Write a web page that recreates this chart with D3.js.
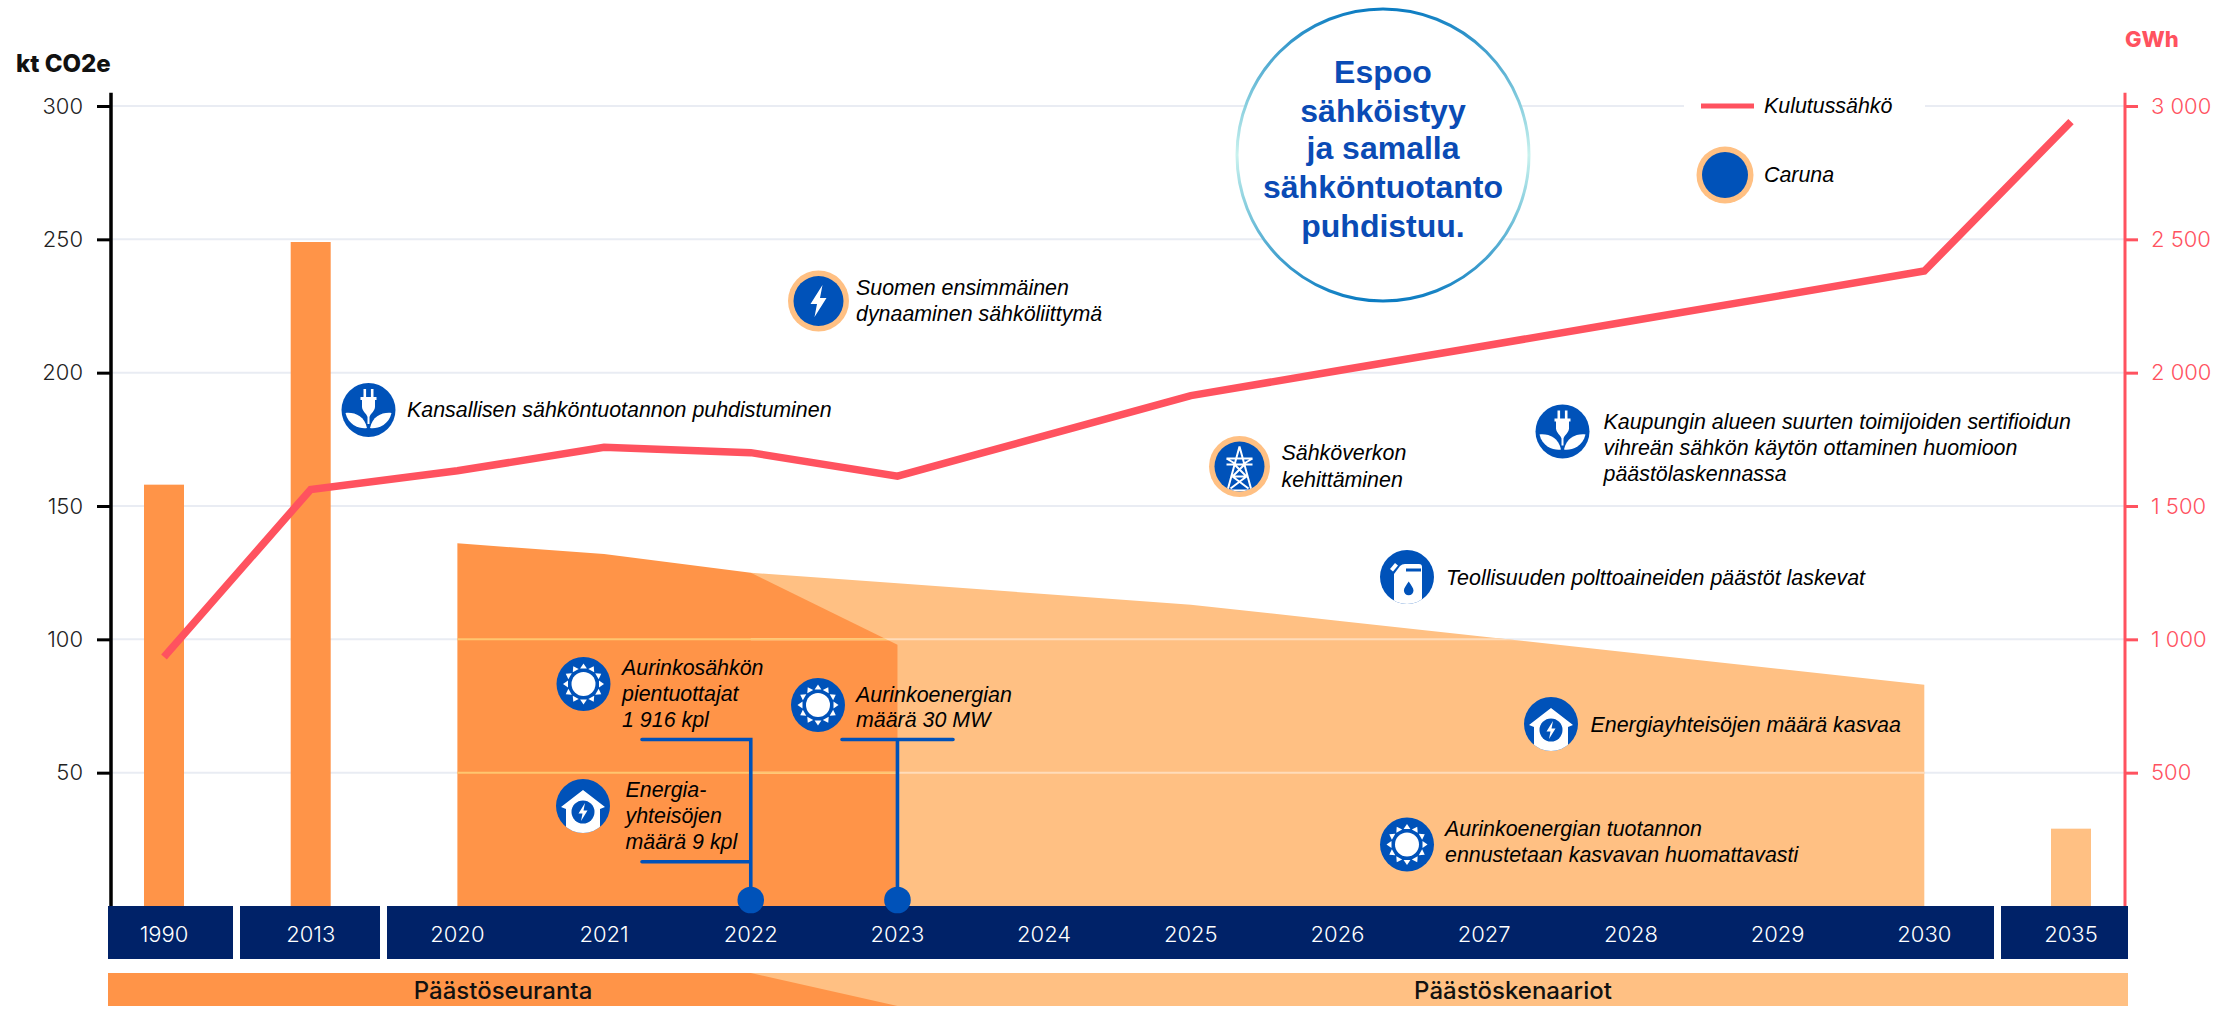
<!DOCTYPE html>
<html><head><meta charset="utf-8">
<script src="https://cdn.jsdelivr.net/npm/d3@7"></script>
<style>html,body{margin:0;padding:0;background:#fff;overflow:hidden}svg{display:block}</style>
</head><body><svg id="c" width="2236" height="1009"></svg>
<script>
// ---- data ----
const years = ["1990","2013","2020","2021","2022","2023","2024","2025","2026","2027","2028","2029","2030","2035"];
const consumptionGWh = [934,1562,1632,1720,1700,1612,1763,1914,2007,2100,2194,2287,2381,2941];
const barYears = ["1990","2013"];
const barValues = [158,249];
const scenarioBarYears = ["2035"];
const scenarioBarValues = [29];
const trackedYears = ["2020","2021","2022","2023"];
const trackedValues = [136,132,125,98];
const scenarioYears = ["2022","2023","2024","2025","2026","2027","2028","2029","2030"];
const scenarioValues = [125,121,117,113,107,101,95,89,83];
const leftTicks = [50,100,150,200,250,300];
const rightTicks = [500,1000,1500,2000,2500,3000];
const circleLines = ["Espoo","sähköistyy","ja samalla","sähköntuotanto","puhdistuu."];
const phaseLabels = ["Päästöseuranta","Päästöskenaariot"];

// ---- style ----
const DARK="#ff9448", LIGHT="#ffc083", NAVY="#002268", BLUE="#0052b9", RED="#ff525f", GRID="#e9ecf3";
const ANNOT='"Liberation Sans",Arial,sans-serif', UI='Inter,sans-serif';

const svg=d3.select("#c");
const defs=svg.append("defs");
const x=d3.scalePoint().domain(years).range([164,2071]);
const y=d3.scaleLinear().domain([0,300]).range([906,106]);
const yR=d3.scaleLinear().domain([0,3000]).range([906,106]);
const barW=40;
const area=d3.area().x(d=>x(d[0])).y0(y(0)).y1(d=>y(d[1]));
const darkD=area(d3.zip(trackedYears,trackedValues));
const lightD=area(d3.zip(scenarioYears,scenarioValues));

// grid
const XL=111, XR=2125;
function gridLines(g,color){
  g.selectAll("line").data(leftTicks.concat([])).join("line")
   .attr("x1",XL).attr("x2",XR).attr("y1",d=>y(d)).attr("y2",d=>y(d))
   .attr("stroke",color).attr("stroke-width",2);
}
gridLines(svg.append("g"),GRID);

// areas and bars
svg.append("path").attr("d",lightD).attr("fill",LIGHT);
svg.append("path").attr("d",darkD).attr("fill",DARK);
function bars(g,ys,vs,fill){
  g.selectAll("rect").data(d3.zip(ys,vs)).join("rect")
   .attr("x",d=>x(d[0])-barW/2).attr("width",barW)
   .attr("y",d=>y(d[1])).attr("height",d=>y(0)-y(d[1])).attr("fill",fill);
}
bars(svg.append("g"),barYears,barValues,DARK);
bars(svg.append("g"),scenarioBarYears,scenarioBarValues,LIGHT);

// grid seen through the fills
const cpL=defs.append("clipPath").attr("id","cpL");
cpL.append("path").attr("d",lightD);
bars(cpL.append("g"),scenarioBarYears,scenarioBarValues,"#000");
const cpD=defs.append("clipPath").attr("id","cpD");
cpD.append("path").attr("d",darkD);
bars(cpD.append("g"),barYears,barValues,"#000");
gridLines(svg.append("g").attr("clip-path","url(#cpL)"),"#ffdcba");
gridLines(svg.append("g").attr("clip-path","url(#cpD)"),"#ffc66f");

// left axis
const la=svg.append("g").attr("transform",`translate(${XL},0)`)
  .call(d3.axisLeft(y).tickValues(leftTicks).tickSize(14).tickSizeOuter(0).tickPadding(14));
la.select(".domain").remove();
la.selectAll("line").attr("stroke","#000").attr("stroke-width",3);
la.selectAll("text").attr("font-family",UI).attr("font-size",22).attr("font-weight",300).attr("fill","#222");
svg.append("line").attr("x1",XL).attr("x2",XL).attr("y1",y(305)).attr("y2",y(0)).attr("stroke","#000").attr("stroke-width",3.5);

// right axis
const fmt=d=>d3.format(",")(d).replace(","," ");
const ra=svg.append("g").attr("transform",`translate(${XR},0)`)
  .call(d3.axisRight(yR).tickValues(rightTicks).tickSize(13).tickSizeOuter(0).tickPadding(13).tickFormat(fmt));
ra.select(".domain").remove();
ra.selectAll("line").attr("stroke",RED).attr("stroke-width",3);
ra.selectAll("text").attr("font-family",UI).attr("font-size",22).attr("font-weight",300).attr("fill",RED);
svg.append("line").attr("x1",XR).attr("x2",XR).attr("y1",yR(3050)).attr("y2",yR(0)).attr("stroke",RED).attr("stroke-width",3);

// axis titles
function label(t,px,py,size,fill,opt={}){
  return svg.append("text").text(t).attr("x",px).attr("y",py).attr("font-size",size).attr("fill",fill)
   .attr("font-family",opt.font||UI).attr("font-weight",opt.weight||400)
   .attr("font-style",opt.italic?"italic":"normal").attr("text-anchor",opt.anchor||"start")
   .attr("dominant-baseline","central");
}
label("kt CO2e",16,63,24,"#111",{weight:800});
label("GWh",2125,39,22,RED,{weight:800});

// year bands
const bandY=906, bandH=53;
[["1990","2013",108,233],["2013","2020",240,380],["2020","2035",387,1994],["2035",null,2001,2128]].forEach(b=>{
  svg.append("rect").attr("x",b[2]).attr("width",b[3]-b[2]).attr("y",bandY).attr("height",bandH).attr("fill",NAVY);
});
svg.append("g").selectAll("text").data(years).join("text").text(d=>d)
  .attr("x",d=>x(d)).attr("y",934).attr("text-anchor","middle").attr("dominant-baseline","central")
  .attr("font-family",UI).attr("font-size",22).attr("font-weight",300).attr("fill","#fff");

// phase band
svg.append("rect").attr("x",108).attr("y",973).attr("width",2020).attr("height",33).attr("fill",LIGHT);
svg.append("path").attr("d",d3.line()([[108,973],[x("2022"),973],[x("2023"),1006],[108,1006]])+"Z").attr("fill",DARK);
label(phaseLabels[0],503,990,24,"#111",{anchor:"middle",weight:500});
label(phaseLabels[1],1513,990,24,"#111",{anchor:"middle",weight:500});

// consumption line
const line=d3.line().x(d=>x(d[0])).y(d=>yR(d[1]));
svg.append("path").attr("d",line(d3.zip(years,consumptionGWh))).attr("fill","none").attr("stroke",RED).attr("stroke-width",7.5).attr("stroke-linejoin","miter");

// milestone connectors
const conn=svg.append("g").attr("stroke",BLUE).attr("stroke-width",3.6).attr("stroke-linecap","round").attr("fill","none");
const x22=x("2022"), x23=x("2023");
conn.append("path").attr("d",`M642,739.5H${x22}V900M642,861.7H${x22}`);
conn.append("path").attr("d",`M842,739.5H953M${x23},739.5V900`);
[x22,x23].forEach(v=>svg.append("circle").attr("cx",v).attr("cy",900).attr("r",13.3).attr("fill",BLUE));

// ---- icons ----
let cid=0;
function base(cx,cy,r,ring){
  const g=svg.append("g").attr("transform",`translate(${cx},${cy})`);
  if(ring) g.append("circle").attr("r",r+5.5).attr("fill",LIGHT);
  g.append("circle").attr("r",r).attr("fill",BLUE);
  const id="ic"+(++cid);
  defs.append("clipPath").attr("id",id).append("circle").attr("r",r);
  return {g,inner:g.append("g").attr("clip-path",`url(#${id})`)};
}
function sun(cx,cy){
  const {inner}=base(cx,cy,27);
  inner.append("circle").attr("r",12).attr("fill","#fff");
  d3.range(12).forEach(i=>{
    inner.append("path").attr("d","M-3.4,-15.5L3.4,-15.5L0,-20.5Z").attr("fill","#fff").attr("transform",`rotate(${i*30})`);
  });
}
function house(cx,cy){
  const {inner}=base(cx,cy,27);
  inner.append("path").attr("d","M0,-16L22,1L17,3V30H-17V3L-22,1Z").attr("fill","#fff");
  inner.append("circle").attr("cy",6).attr("r",11.5).attr("fill",BLUE);
  inner.append("path").attr("d","M2,-3L-4.5,7.5H-0.5L-2,15L4.5,4.5H0.5Z").attr("fill","#fff");
}
function plug(cx,cy){
  const {inner}=base(cx,cy,27);
  inner.append("path").attr("d","M-5,-21H-2.4V-13H2.4V-21H5V-13H8V-10H6.5V-3C6,2 2,3 1,7V14H-1V7C-2,3 -6,2 -6.5,-3V-10H-8V-13H-5Z").attr("fill","#fff");
  inner.append("path").attr("d","M-23,3C-14,2 -4,6 -1.5,18C-8,19 -20,16 -23,3Z").attr("fill","#fff");
  inner.append("path").attr("d","M23,3C14,2 4,6 1.5,18C8,19 20,16 23,3Z").attr("fill","#fff");
}
function bolt(cx,cy){
  const {inner}=base(cx,cy,25,true);
  inner.append("path").attr("d","M4,-16L-8,3H-1.5L-4,16L8,-3H1.5Z").attr("fill","#fff");
}
function tower(cx,cy){
  const {inner}=base(cx,cy,25,true);
  inner.append("path").attr("fill","none").attr("stroke","#fff").attr("stroke-width",2)
   .attr("d","M0,-20L-12,24M0,-20L12,24M-13,-8H13M-13,-8L-3,-2M13,-8L3,-2M-13,-2H13M-5,-2L7,10M5,-2L-7,10M-7,10L9,22M7,10L-9,22M-12,24H12M-7,10H7");
}
function fuel(cx,cy){
  const {inner}=base(cx,cy,27);
  inner.append("path").attr("d","M-13,-3L-7,-11Q-5,-13 -2,-13H12Q15,-13 15,-10V30H-13Z").attr("fill","#fff");
  inner.append("path").attr("d","M-17,-8L-12,-14L-9,-11.5L-14,-5.5Z").attr("fill","#fff");
  inner.append("rect").attr("x",-1).attr("y",-8.5).attr("width",15).attr("height",3).attr("fill",BLUE);
  inner.append("path").attr("d","M1.7,4.5C4,8 6.5,11 6.5,13.5A4.8,4.8 0 0 1 -3.1,13.5C-3.1,11 -0.6,8 1.7,4.5Z").attr("fill",BLUE);
}

// ---- annotations ----
function note(textX,ys,lines,size=21.4){
  lines.forEach((t,i)=>label(t,textX,ys[i],size,"#000",{font:ANNOT,italic:true}));
}
plug(368.5,410);  note(407,[410],["Kansallisen sähköntuotannon puhdistuminen"]);
bolt(818.5,301);  note(856,[288,314],["Suomen ensimmäinen","dynaaminen sähköliittymä"]);
sun(583.5,684);   note(622,[668,694,720],["Aurinkosähkön","pientuottajat","1 916 kpl"]);
sun(818,705);     note(856,[694.5,720],["Aurinkoenergian","määrä 30 MW"]);
house(583,806);   note(625.5,[790,816,842],["Energia-","yhteisöjen","määrä 9 kpl"]);
tower(1239.5,466.5); note(1281.5,[453,480],["Sähköverkon","kehittäminen"]);
plug(1562.5,431.5);  note(1603.5,[422,448,474],["Kaupungin alueen suurten toimijoiden sertifioidun","vihreän sähkön käytön ottaminen huomioon","päästölaskennassa"]);
fuel(1407,577);   note(1446,[578],["Teollisuuden polttoaineiden päästöt laskevat"]);
house(1551,724);  note(1590.5,[725],["Energiayhteisöjen määrä kasvaa"]);
sun(1407,844.5);  note(1445,[829,855],["Aurinkoenergian tuotannon","ennustetaan kasvavan huomattavasti"]);

// legend
svg.append("rect").attr("x",1684).attr("y",96).attr("width",241).attr("height",20).attr("fill","#fff");
svg.append("line").attr("x1",1701).attr("x2",1754).attr("y1",106).attr("y2",106).attr("stroke",RED).attr("stroke-width",5);
note(1764,[106],["Kulutussähkö"]);
base(1725,175,23,true);
note(1764,[175],["Caruna"]);

// headline circle
const grad=defs.append("linearGradient").attr("id","ringG").attr("x1",0).attr("x2",0).attr("y1",0).attr("y2",1);
[[0,"#0c7cc2"],[.3,"#7fc9dc"],[.5,"#c9f2ee"],[.7,"#7fc9dc"],[1,"#0c7cc2"]].forEach(s=>grad.append("stop").attr("offset",s[0]).attr("stop-color",s[1]));
svg.append("circle").attr("cx",1383).attr("cy",155).attr("r",146).attr("fill","#fff").attr("stroke","url(#ringG)").attr("stroke-width",3);
const cy0=[72,111,148,187,226];
circleLines.forEach((t,i)=>label(t,1383,cy0[i],32,"#0a4bb5",{font:ANNOT,weight:700,anchor:"middle"}));
</script></body></html>
